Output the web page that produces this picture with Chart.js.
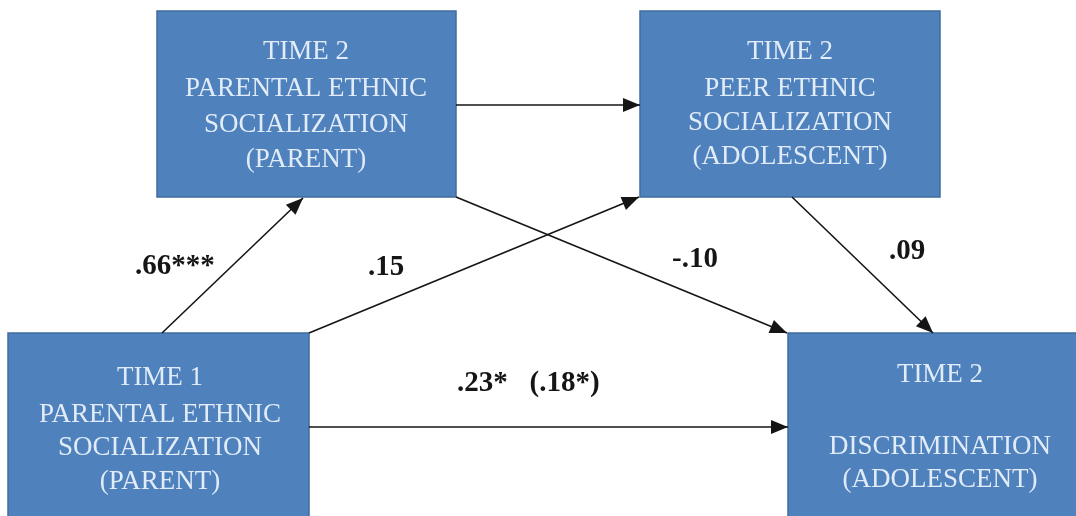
<!DOCTYPE html>
<html>
<head>
<meta charset="utf-8">
<title>Ethnic socialization path model</title>
<script src="https://cdn.jsdelivr.net/npm/chart.js@4.4.1/dist/chart.umd.min.js"></script>
<style>
    html, body { margin: 0; padding: 0; background: #ffffff; }
    #js--chart { display: block; }
</style>
</head>
<body>
<canvas id="js--chart" width="1076" height="516"></canvas>
<script>
// model constructs (one entry per box, lines of its label)
const constructs = [
    ["TIME 2", "PARENTAL ETHNIC", "SOCIALIZATION", "(PARENT)"],
    ["TIME 2", "PEER ETHNIC", "SOCIALIZATION", "(ADOLESCENT)"],
    ["TIME 1", "PARENTAL ETHNIC", "SOCIALIZATION", "(PARENT)"],
    ["TIME 2", "", "DISCRIMINATION", "(ADOLESCENT)"]
];

// paths: index of source box -> index of target box, with coefficient
const pathFrom = [2, 2, 0, 1, 0, 2];
const pathTo = [0, 1, 3, 3, 1, 3];
const coefficients = [".66***", ".15", "-.10", ".09", "", ".23*   (.18*)"];

// layout only: box rectangles and arrow ends, in canvas units
const boxes = [
    { x1: 157, y1: 11, x2: 456, y2: 197, textX: 306, textY: [52, 89, 125, 160] },
    { x1: 640, y1: 11, x2: 940, y2: 197, textX: 790, textY: [52, 89, 123, 157] },
    { x1: 8, y1: 333, x2: 309, y2: 520, textX: 160, textY: [378, 415, 448, 482] },
    { x1: 788, y1: 333, x2: 1090, y2: 520, textX: 940, textY: [375, 411, 447, 480] }
];
const arrowEnds = [
    [162, 333, 303, 198],
    [309, 333, 639, 197],
    [456, 197, 787, 333],
    [792, 197, 933, 333],
    [456, 105, 640, 105],
    [309, 427, 788, 427]
];
const labelSpots = [
    [135, 267],
    [368, 268],
    [672, 260],
    [889, 252],
    [0, 0],
    [457, 384]
];

const boxFill = "#4f81bd";
const boxEdge = "#3f6c9e";
const boxText = "#e1ecf8";
const ink = "#151515";

const diagramPlugin = {
    id: "diagram",
    beforeDatasetsDraw(chart) {
        const ctx = chart.ctx;
        const xs = chart.scales.x;
        const ys = chart.scales.y;
        ctx.save();
        boxes.forEach((b) => {
            const left = xs.getPixelForValue(b.x1);
            const top = ys.getPixelForValue(b.y1);
            const right = xs.getPixelForValue(b.x2);
            const bottom = ys.getPixelForValue(b.y2);
            ctx.fillStyle = boxFill;
            ctx.fillRect(left, top, right - left, bottom - top);
            ctx.strokeStyle = boxEdge;
            ctx.lineWidth = 1.5;
            ctx.strokeRect(left, top, right - left, bottom - top);
        });
        ctx.restore();
    },
    afterDatasetsDraw(chart) {
        const ctx = chart.ctx;
        const xs = chart.scales.x;
        const ys = chart.scales.y;
        ctx.save();

        // arrowheads at the last point of every path dataset
        chart.data.datasets.forEach((ds, i) => {
            const pts = chart.getDatasetMeta(i).data;
            const a = pts[0];
            const b = pts[pts.length - 1];
            const ang = Math.atan2(b.y - a.y, b.x - a.x);
            const len = 17;
            const half = 7;
            ctx.fillStyle = ink;
            ctx.beginPath();
            ctx.moveTo(b.x, b.y);
            ctx.lineTo(b.x - len * Math.cos(ang) + half * Math.sin(ang),
                b.y - len * Math.sin(ang) - half * Math.cos(ang));
            ctx.lineTo(b.x - len * Math.cos(ang) - half * Math.sin(ang),
                b.y - len * Math.sin(ang) + half * Math.cos(ang));
            ctx.closePath();
            ctx.fill();
        });

        // box labels
        ctx.fillStyle = boxText;
        ctx.font = "27px 'Liberation Serif', 'Times New Roman', serif";
        ctx.textAlign = "center";
        ctx.textBaseline = "middle";
        constructs.forEach((lines, i) => {
            const b = boxes[i];
            lines.forEach((line, j) => {
                ctx.fillText(line, xs.getPixelForValue(b.textX), ys.getPixelForValue(b.textY[j]));
            });
        });

        // path coefficients
        ctx.fillStyle = ink;
        ctx.font = "bold 29px 'Liberation Serif', 'Times New Roman', serif";
        ctx.textAlign = "left";
        coefficients.forEach((c, i) => {
            if (!c) {
                return;
            }
            const s = labelSpots[i];
            ctx.fillText(c, xs.getPixelForValue(s[0]), ys.getPixelForValue(s[1]));
        });
        ctx.restore();
    }
};

const pathData = {
    datasets: pathFrom.map((from, i) => ({
        label: constructs[from][0] + " -> " + constructs[pathTo[i]][0] + " " + coefficients[i],
        data: [
            { x: arrowEnds[i][0], y: arrowEnds[i][1] },
            { x: arrowEnds[i][2], y: arrowEnds[i][3] }
        ],
        showLine: true,
        borderColor: ink,
        borderWidth: 1.6,
        pointRadius: 0,
        pointHoverRadius: 0
    }))
};

const configPaths = {
    type: "scatter",
    data: pathData,
    options: {
        responsive: false,
        animation: false,
        layout: { padding: 0 },
        plugins: {
            legend: { display: false },
            tooltip: { enabled: false }
        },
        scales: {
            x: { type: "linear", min: 0, max: 1076, display: false },
            y: { type: "linear", min: 0, max: 516, reverse: true, display: false }
        }
    },
    plugins: [diagramPlugin]
};

const graph = new Chart(document.getElementById("js--chart"), configPaths);
</script>
</body>
</html>
